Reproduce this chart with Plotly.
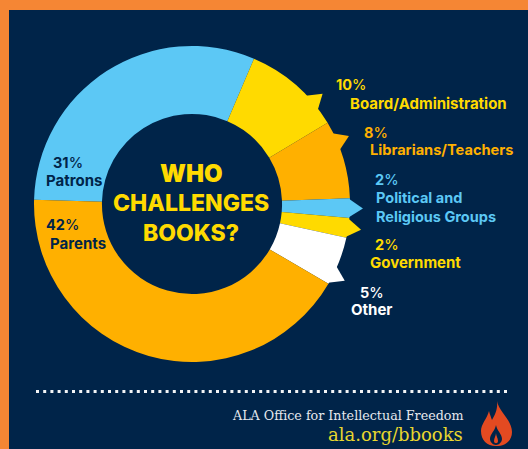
import math
import plotly.graph_objects as go

W, H = 528, 449
NAVY = "#002449"
ORANGE = "#F58634"
YELLOW = "#FFDA00"
AMBER = "#FFB000"
BLUE = "#5CC8F5"
WHITE = "#FFFFFF"

categories = ["Patrons", "Board/Administration", "Librarians/Teachers",
              "Political and Religious Groups", "Government", "Other", "Parents"]
shares = [31, 10, 8, 2, 2, 5, 42]
slice_colors = [BLUE, YELLOW, AMBER, BLUE, YELLOW, WHITE, AMBER]

CX, CY, R = 192, 204, 158
ROTATION = 271.5


def px(x):
    return x / W


def py(y):
    return 1 - y / H


def path(cmds):
    out = []
    for c in cmds:
        if isinstance(c, str):
            out.append(c)
        else:
            out.append(f"{px(c[0]):.5f},{py(c[1]):.5f}")
    return " ".join(out)


def polar(angle, r):
    a = math.radians(angle)
    return (CX + r * math.sin(a), CY - r * math.cos(a))


# slice boundaries in degrees clockwise from the top
bounds = [ROTATION]
for s in shares:
    bounds.append(bounds[-1] + s * 3.6)
bounds = [b - 360 for b in bounds]

arrow_centres = {
    1: bounds[2] - 9.3,
    2: bounds[2] + 7.5,
    3: (bounds[3] + bounds[4]) / 2,
    4: (bounds[4] + bounds[5]) / 2,
    5: bounds[6] - 3.6,
}

shapes = [
    dict(type="rect", xref="paper", yref="paper", x0=px(9), x1=1, y0=0, y1=py(10),
         fillcolor=NAVY, line_width=0, layer="below"),
    dict(type="line", xref="paper", yref="paper", x0=px(36), x1=px(510), y0=py(391.5), y1=py(391.5),
         line=dict(color="#F2F4F6", width=3, dash="3px,4.2px"), layer="above"),
]

for i, c in arrow_centres.items():
    half = 3.4
    a, t, b = polar(c - half, R - 1), polar(c, R + 13), polar(c + half, R - 1)
    shapes.append(dict(type="path", xref="paper", yref="paper",
                       path=path(["M", a, "L", t, "L", b, "Z"]),
                       fillcolor=slice_colors[i], line_width=0, layer="above"))

flame_outer = ["M", (497, 401), "C", (499, 412), (512, 420), (512, 432),
               "C", (512, 441), (505, 446), (496, 446),
               "C", (487, 446), (481, 440), (481, 431),
               "C", (481, 424), (487, 419), (489, 411),
               "C", (490, 415), (491, 417), (492, 420),
               "C", (495, 415), (498, 409), (497, 401), "Z"]
flame_inner = ["M", (496, 425), "C", (497, 431), (502, 434), (502, 439),
               "C", (502, 442), (499, 445), (496, 445),
               "C", (493, 445), (490, 442), (490, 439),
               "C", (490, 434), (495, 431), (496, 425), "Z"]
flame_core = ["M", (496, 433), "C", (496, 436), (498, 438), (498, 441),
              "C", (498, 444), (494, 444), (494, 441),
              "C", (494, 438), (496, 436), (496, 433), "Z"]
for p, col in ((flame_outer, "#E34A21"), (flame_inner, NAVY), (flame_core, "#E34A21")):
    shapes.append(dict(type="path", xref="paper", yref="paper", path=path(p),
                       fillcolor=col, line_width=0, layer="above"))

LABEL_FONT = "Inter"
SERIF = "DejaVu Serif"


def note(text, x, y, color, size=15, anchor="left", family=LABEL_FONT, weight=700):
    return dict(text=text, x=px(x), y=py(y), xref="paper", yref="paper",
                xanchor=anchor, yanchor="middle", showarrow=False, align=anchor,
                font=dict(family=family, size=size, color=color, weight=weight))


def pct(v):
    return f"<b>{v}</b>%"


annotations = [
    note(pct(10), 334, 85, YELLOW, 14.5, weight=500),
    note("Board/Administration", 348, 103, YELLOW),
    note(pct(8), 362, 132, AMBER, 14.5, weight=500),
    note("Librarians/Teachers", 368, 150, AMBER, 14.6),
    note(pct(2), 373, 179, BLUE, 14.5, weight=500),
    note("Political and<br>Religious Groups", 374, 206.5, BLUE, 14.5),
    note(pct(2), 373, 244, YELLOW, 14.5, weight=500),
    note("Government", 368, 262, YELLOW),
    note(pct(5), 358, 292, WHITE, 14.5, weight=500),
    note("Other", 349, 309, WHITE),
    note(pct(31), 51, 162, NAVY, 14.5, weight=500),
    note("Patrons", 44, 180, NAVY),
    note(pct(42), 44, 224, NAVY, 14.5, weight=500),
    note("Parents", 48, 243, NAVY),
    note("WHO", 191, 173, YELLOW, 24, "center", weight=900),
    note("CHALLENGES", 191, 203, YELLOW, 23, "center", weight=800),
    note("BOOKS?", 191, 233, YELLOW, 23, "center", weight=800),
    note("ALA Office for Intellectual Freedom", 465, 415, "#E6E9EE", 12.7, "right", SERIF, 400),
    note("ala.org/bbooks", 465, 434, "#E8D62E", 18, "right", SERIF, 400),
]

fig = go.Figure(go.Pie(
    labels=categories,
    values=shares,
    sort=False,
    direction="clockwise",
    rotation=ROTATION,
    hole=0.57,
    textinfo="none",
    showlegend=False,
    marker=dict(colors=slice_colors, line=dict(width=0)),
    domain=dict(x=[px(CX - R), px(CX + R)], y=[py(CY + R), py(CY - R)]),
))
fig.update_layout(
    width=W, height=H,
    autosize=False,
    margin=dict(l=0, r=0, t=0, b=0),
    paper_bgcolor=ORANGE,
    shapes=shapes,
    annotations=annotations,
)
fig.write_html("out.html", config={"displayModeBar": False},
               post_script="document.body.style.margin='0';document.body.style.overflow='hidden';")
